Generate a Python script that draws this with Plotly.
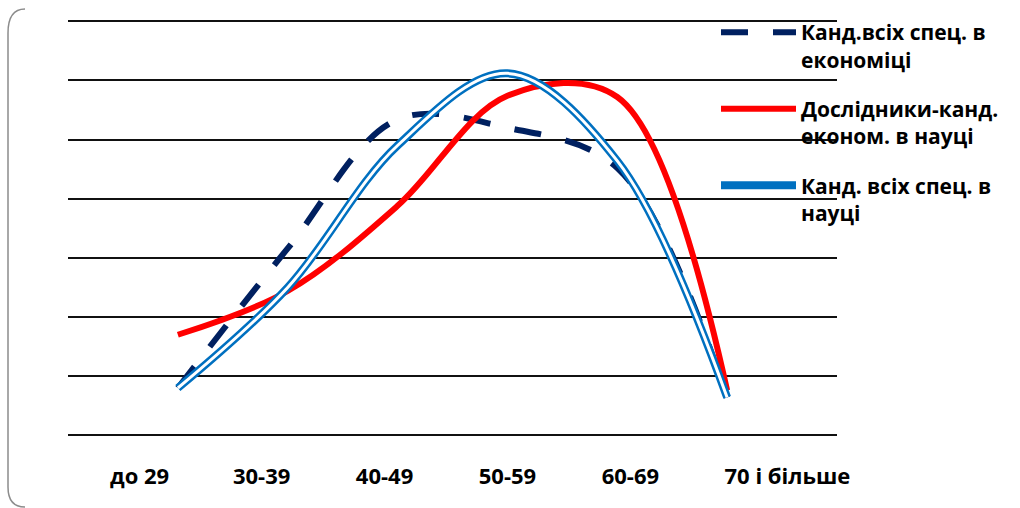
import plotly.graph_objects as go

categories = ["до 29", "30-39", "40-49", "50-59", "60-69", "70 і більше"]
econ_all = [4.0, 15.8, 26.7, 26.0, 22.6, 3.2]
research_econ = [8.5, 12.2, 19.4, 28.7, 28.6, 3.8]
science_all = [4.0, 12.5, 24.5, 30.6, 23.2, 3.2]
names = ["Канд.всіх спец. в<br>економіці",
         "Дослідники-канд.<br>економ. в науці",
         "Канд. всіх спец. в<br>науці"]

W, H = 1020, 508
L, R, T, B = 68, 183, 9, 72
pw, ph = W - L - R, H - T - B

def px(x):
    return (x - L) / pw

def py(y):
    return (H - B - y) / ph

fig = go.Figure()
fig.add_trace(go.Scatter(x=categories, y=econ_all, name=names[0], mode="lines",
                         line=dict(color="#002060", width=6, dash="27px,25px", shape="spline", smoothing=1),
                         legendgroup="a", hoverinfo="skip"))
fig.add_trace(go.Scatter(x=categories, y=research_econ, name=names[1], mode="lines",
                         line=dict(color="#FF0000", width=6, shape="spline", smoothing=1),
                         legendgroup="b", hoverinfo="skip"))
fig.add_trace(go.Scatter(x=categories, y=science_all, name=names[2], mode="lines",
                         line=dict(color="#0070C0", width=8, shape="spline", smoothing=1),
                         legendgroup="c", hoverinfo="skip"))
fig.add_trace(go.Scatter(x=categories, y=science_all, mode="lines", showlegend=False,
                         line=dict(color="white", width=3, shape="spline", smoothing=1),
                         legendgroup="c", hoverinfo="skip"))
# category labels axis
fig.add_trace(go.Scatter(x=list(range(len(categories))), y=[None] * len(categories), xaxis="x2",
                         mode="lines", showlegend=False, hoverinfo="skip"))

fig.update_layout(
    width=W, height=H,
    margin=dict(l=L, r=R, t=T, b=B, pad=0),
    paper_bgcolor="white", plot_bgcolor="white",
    font=dict(family="Open Sans, sans-serif", size=21, color="black"),
    xaxis=dict(type="category", categoryarray=categories, range=[-1, 6],
               showgrid=False, showticklabels=False, zeroline=False, showline=False),
    xaxis2=dict(overlaying="x", anchor="y", side="bottom", range=[-0.342, 5.915],
                tickvals=list(range(len(categories))), ticktext=["<b>%s</b>" % c for c in categories],
                ticklabelposition="outside right", ticks="", ticklabelstandoff=25,
                showgrid=False, zeroline=False, showline=False,
                tickfont=dict(size=22)),
    yaxis=dict(range=[-0.06, 36.04], dtick=5, showticklabels=False, showgrid=True,
               gridcolor="#111111", gridwidth=2, zeroline=True, zerolinecolor="#111111",
               zerolinewidth=2, showline=False),
    legend=dict(x=px(716), y=py(12), xanchor="left", yanchor="top", bgcolor="rgba(0,0,0,0)",
                traceorder="grouped", tracegroupgap=19, valign="top", itemwidth=75,
                font=dict(size=21, family="Open Sans, sans-serif", weight="bold")),
    showlegend=True,
    shapes=[dict(type="path", xref="paper", yref="paper",
                 path=f"M {px(25)},{py(9)} Q {px(8)},{py(9)} {px(8)},{py(33)} L {px(8)},{py(487)} Q {px(8)},{py(507)} {px(25)},{py(507)}",
                 line=dict(color="#8c8c8c", width=1.5), layer="below")],
)

fig.write_html("out.html")
